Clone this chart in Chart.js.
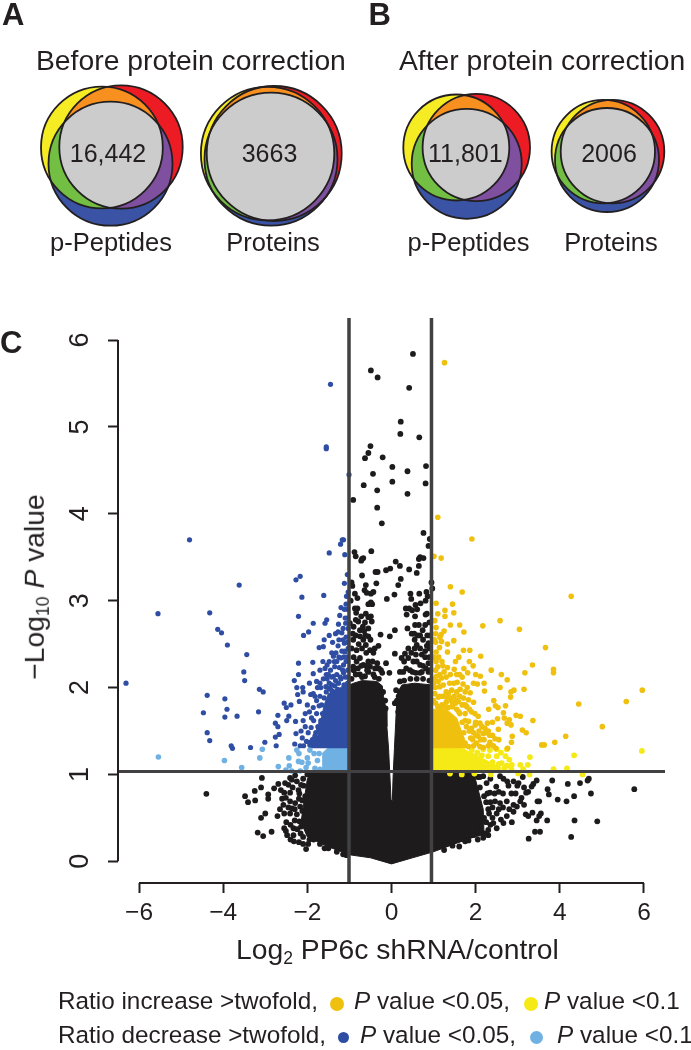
<!DOCTYPE html>
<html><head><meta charset="utf-8">
<script src="https://cdn.jsdelivr.net/npm/chart.js@4"></script>
<style>
html,body{margin:0;padding:0;background:#fff}
body{position:relative;width:691px;height:1050px;overflow:hidden;font-family:"Liberation Sans",Arial,sans-serif;color:#231f20}
canvas{position:absolute;left:0}
.t{position:absolute;white-space:nowrap;line-height:1;font-size:25.5px}
.c{transform:translateX(-50%)}
.p{font-weight:bold;font-size:31px}
.h{font-size:28.3px}
.n{font-size:25px}
.l{font-size:24.3px}
.d{position:absolute;border-radius:50%}
sub{font-size:62%;line-height:0;vertical-align:-0.28em}
</style></head><body>
<canvas id="venn" style="top:0" width="691" height="280"></canvas>
<canvas id="volcano" style="top:280px" width="691" height="770"></canvas>
<div class="t p" style="left:2px;top:-1px">A</div>
<div class="t p" style="left:368.5px;top:-1px">B</div>
<div class="t p" style="left:0;top:327px">C</div>
<div class="t h" style="left:36px;top:46px">Before protein correction</div>
<div class="t h" style="left:399px;top:46px">After protein correction</div>
<div class="t c" style="left:111px;top:230.4px">p-Peptides</div>
<div class="t c" style="left:273px;top:230.4px">Proteins</div>
<div class="t c" style="left:468.5px;top:230.4px">p-Peptides</div>
<div class="t c" style="left:611px;top:230.4px">Proteins</div>
<div class="t c n" style="left:108px;top:140.5px">16,442</div>
<div class="t c n" style="left:269.5px;top:140.5px">3663</div>
<div class="t c n" style="left:465.3px;top:140.5px">11,801</div>
<div class="t c n" style="left:609px;top:140.5px">2006</div>
<div class="t h" id="ytitle" style="left:34px;top:586.5px;transform:translate(-50%,-50%) rotate(-90deg)">−Log<sub>10</sub> <i>P</i> value</div>
<div class="t h" style="left:236px;top:935px">Log<sub>2</sub> PP6c shRNA/control</div>
<div class="t l" style="left:58px;top:989.4px">Ratio increase &gt;twofold,</div>
<div class="d" style="left:330px;top:997px;width:14px;height:14px;background:#efc10e"></div>
<div class="t l" style="left:354px;top:989.4px"><i>P</i> value &lt;0.05,</div>
<div class="d" style="left:524px;top:997px;width:14px;height:14px;background:#f5e916"></div>
<div class="t l" style="left:544px;top:989.4px"><i>P</i> value &lt;0.1</div>
<div class="t l" style="left:58px;top:1023.4px">Ratio decrease &gt;twofold,</div>
<div class="d" style="left:338px;top:1032px;width:11px;height:11px;background:#2f4ea3"></div>
<div class="d" style="left:530px;top:1031px;width:13px;height:13px;background:#6fb1e3"></div>
<div class="t l" style="left:360px;top:1023.4px"><i>P</i> value &lt;0.05,</div>
<div class="t l" style="left:557px;top:1023.4px"><i>P</i> value &lt;0.1</div>
<script>
const xTicks=[-6,-4,-2,0,2,4,6];
const yTicks=[0,1,2,3,4,5,6];
const foldCutLow=-1.01, foldCutHigh=0.95, pCut=1.033;

// Venn circles: yellow, red, blue for each of the four diagrams
const vennX=[101.9,121,110.5, 267.6,274.2,271, 456.3,476.3,466.7, 603.3,612.5,607];
const vennY=[147.5,147,163.7, 153.6,153.5,159.2, 147.5,147.5,163.8, 151.6,151.6,160];
const vennR=[60.9,61.7,62, 66.7,67.5,66.5, 53,53.7,55, 51.7,51.8,52];

// Dense cloud outlines read column by column: [x, y]
const blackTop=[[-2.15,.45],[-2.0,.95],[-1.9,1.03],[-1.02,1.03],[-1.0,2.03],[-.9,2.05],[-.7,2.08],[-.35,2.07],[-.22,2.02],[-.19,1.9],[-.13,1.75],[-.11,1.55],[-.07,1.3],[-.04,1.0],[-.01,.7],[.02,.7],[.04,1.0],[.07,1.3],[.1,1.6],[.12,1.8],[.15,1.95],[.25,2.03],[.55,2.05],[.95,2.03],[.97,1.03],[1.94,1.03],[2.02,.9],[2.18,.6],[2.2,.3]];
const blackBottom=[[-2.15,.45],[-2.0,.28],[-1.5,.167],[-1,.075],[-.5,.04],[0,-.03],[.5,.04],[1,.11],[1.5,.2],[2,.285],[2.2,.3]];
const darkBlueBand=[[-1.95,1.33],[-1.75,1.45],[-1.6,1.8],[-1.5,1.93],[-1.2,2.0],[-1.0,2.1]];
const lightBlueBand=[[-1.65,1.24],[-1.5,1.31],[-.99,1.31]];
const goldBand=[[.97,1.75],[1.3,1.75],[1.55,1.65],[1.72,1.42],[1.8,1.3]];
const yellowBand=[[.97,1.31],[1.6,1.31],[1.9,1.25],[2.3,1.15],[2.6,1.08]];

const darkBluePoints=[[-1.45,5.49],[-1.55,4.77],[-1.55,4.75],[-1.01,4.45],[-4.8,3.7],[-1.14,3.7],[-1.21,3.65],[-1.17,3.7],[-1.48,3.55],[-1.11,3.53],
[-3.62,3.18],[-2.17,3.28],[-2.27,3.24],[-1.61,3.06],[-2.13,3.04],[-1.08,2.96],[-5.55,2.85],[-4.32,2.86],[-2.21,2.82],[-1.23,2.83],[-1.1,2.8],[-1.54,2.78],[-1.58,2.74],[-1.86,2.74],[-1.26,2.73],[-1.09,2.74],[-4.13,2.67],[-4.04,2.63],[-1.97,2.64],[-2.09,2.6],[-1.27,2.64],[-1.18,2.63],[-3.9,2.49],[-1.72,2.46],[-1.62,2.47],[-1.27,2.48],[-1.12,2.51],[-3.44,2.38],[-1.11,2.41],[-1.38,2.36],[-1.21,2.34],[-2.21,2.28],[-1.87,2.29],[-1.63,2.3],[-1.53,2.26],[-1.36,2.3],[-1.14,2.26],[-1.24,2.23],[-3.51,2.18],[-2.21,2.15],[-1.86,2.16],[-3.49,2.08],[-2.31,2.08],[-1.78,2.07],[-1.62,2.1],[-1.53,2.1],[-1.38,2.13],[-1.14,2.17],[-6.31,2.05],[-3.14,1.98],[-3.05,1.95],[-2.25,2],[-2.11,2],[-1.76,2],[-1.56,2.01],[-1.42,2.03],[-1.26,2.05],[-1.13,2.03],[-4.38,1.91],[-2.23,1.92],[-2.1,1.95],[-1.92,1.92],[-1.86,1.93],[-3.96,1.87],[-2.19,1.84],[-2.55,1.82],[-2.5,1.77],[-2.39,1.8],[-1.72,1.79],[-1.86,1.77],[-3.91,1.75],[-4.47,1.71],[-3.16,1.72],[-2.7,1.68],[-3.67,1.67],[-3.96,1.66],[-2.44,1.67],[-2.49,1.62],[-2.28,1.61],[-2.76,1.59],[-2.7,1.55],[-1.68,1.59],[-1.91,1.54],[-4.38,1.48],[-2.15,1.5],[-2.27,1.47],[-2.67,1.46],[-2.76,1.43],[-1.73,1.52],[-4.32,1.39],[-3.01,1.37],[-2.74,1.33],[-3.81,1.33],[-3.78,1.3],[-3.35,1.31],[-2.17,1.33],[-2.09,1.33],[-1.94,1.34],[-1.82,1.36],[-1.82,1.44],[-1.7,1.42],[-1.35,2.24],[-1.3,2.15],[-1.2,2.1],[-1.45,1.98],[-1.08,2.3],[-1.05,2.12],[-1.18,2.42],
[-1.95,1.37],[-1.88,1.4],[-1.8,1.48],[-1.75,1.55],[-1.68,1.62],[-1.64,1.7],[-1.66,1.8],[-1.6,1.88],[-1.55,1.95],[-1.48,1.99],[-1.4,1.96],[-1.33,2.08],[-1.28,1.98],[-1.22,2.12],[-1.16,2.2],[-1.1,2.12],[-1.04,2.2],[-1.06,2.35],[-1.14,2.35],[-1.03,2.45],[-1.08,2.58],[-1.03,2.68],[-1.15,2.55],[-1.32,2.4],[-1.45,2.2],[-1.5,2.15],[-1.7,2.2],[-1.42,2.12],[-1.95,2.05],[-2,1.8],[-1.9,1.65],[-2.05,1.55],[-2.12,1.42],[-2.02,1.38],[-1.78,1.7],[-1.7,1.9],[-1.03,3.1],[-1.05,3.3],[-1.12,2.9],[-1.05,2.9],
[-1.7,2.05],[-1.68,2],[-1.55,2.15],[-1.48,2.05],[-1.48,2.3],[-1.42,2.4],[-1.3,2.3],[-1.25,2.35],[-1.12,2.42],[-1.05,2.52],[-1.04,2.05],[-1.35,2.02],[-1.82,1.9],[-1.78,1.85],[-1.85,1.62],[-1.95,1.72],[-2.05,1.7],[-1.98,1.48],[-2.1,1.62],[-2.3,1.35],[-1.58,2.22],[-1.25,2.55],[-1.33,2.62],[-1.15,2.68],[-1.05,2.8],[-1.2,2.92],[-1.07,3.05],[-1.4,2.52],[-1.48,2.6],[-1.12,3.2],[-1.6,2.55]];

const lightBluePoints=[[-5.54,1.2],[-3.97,1.16],[-3.56,1.08],[-3.13,1.19],[-3.07,1.29],[-2.69,1.09],[-2.44,1.19],[-2.43,1.1],[-2.51,1.05],[-2.25,1.28],[-2.2,1.24],[-1.94,1.28],[-1.84,1.24],[-2,1.19],[-2.13,1.14],[-2.21,1.15],[-1.76,1.16],[-1.98,1.13],[-1.82,1.07],[-2.03,1.08],[-2.37,1.04],[-2.17,1.04],[-1.7,1.06],[-1.72,1.24]];

const goldPoints=[[1.26,5.74],[1.1,3.96],[1.91,3.71],[1.01,3.51],[1.18,3.49],[1.4,3.16],[1.68,3.1],[4.27,3.05],[1.06,2.97],[1.45,2.96],[1.27,2.89],[1.48,2.86],[1.1,2.85],[1.27,2.82],[2.58,2.77],[2.17,2.71],[1.4,2.72],[1.62,2.72],[1.06,2.69],[1.72,2.64],[3.04,2.67],[1.18,2.61],[1.15,2.58],[1.19,2.53],[1.48,2.54],[1.33,2.5],[1.14,2.46],[1.06,2.41],[1.33,2.41],[1.71,2.43],[1.86,2.43],[3.66,2.46],[2.12,2.36],[1.85,2.3],[1.06,2.3],[1.94,2.25],[1.1,2.24],[1.33,2.23],[1.49,2.21],[1.72,2.22],[1.81,2.17],[1.25,2.18],[3.35,2.26],[2.37,2.2],[2.61,2.15],[3.17,2.17],[3.85,2.21],[3.85,2.17],[2.11,2.13],[1.68,2.12],[1.07,2.13],[1.19,2.11],[1.3,2.12],[2.75,2.09],[2.04,2.04],[1.56,2.06],[1.11,2.07],[1.23,2.03],[1.15,2.01],[2.91,1.97],[2.84,1.95],[3.15,1.98],[2.58,2],[2.21,1.96],[1.8,2],[1.87,1.94],[1.63,1.98],[1.43,1.97],[1.35,1.93],[1.03,1.93],[1.23,1.9],[1.11,1.89],[1.49,1.9],[2.83,1.89],[2.43,1.85],[1.71,1.88],[1.59,1.84],[1.83,1.86],[1.95,1.83],[1.79,1.78],[1.9,1.72],[2.71,1.79],[2.47,1.79],[2.53,1.77],[2.31,1.75],[2.66,1.71],[2.06,1.67],[2.96,1.68],[3.06,1.67],[3.36,1.62],[2.52,1.64],[2.4,1.6],[2.28,1.59],[2.68,1.65],[2.8,1.63],[2.75,1.59],[2.84,1.57],[2.1,1.59],[1.99,1.57],[1.83,1.61],[1.9,1.53],[2.54,1.52],[2.22,1.53],[2.08,1.5],[3.11,1.51],[3.2,1.48],[2.33,1.45],[2.18,1.47],[2.06,1.44],[2.87,1.44],[1.93,1.4],[2.02,1.36],[2.34,1.37],[2.46,1.41],[2.55,1.4],[2.85,1.37],[3.57,1.34],[3.63,1.34],[3.88,1.37],[2.48,1.3],[2.76,1.3],[1.75,1.36],[1.63,1.34],[1.83,1.32],[1.51,1.44],[1.59,1.38],[1.67,1.41],[2.18,1.31],[5.96,1.97],[5.58,1.84],[4.45,1.81],[5.01,1.55],[4.14,1.44],[1.3,1.83],[1.45,1.8],[1.2,1.8],[1.05,1.82],[1.6,1.72],
[1.72,1.48],[1.78,1.55],[1.68,1.6],[1.62,1.7],[1.55,1.75],[1.45,1.78],[1.35,1.77],[1.15,1.77],[1,1.85],[1.04,2],[1.15,1.9],[1.3,1.95],[1.4,1.88],[1.52,1.82],[1.68,1.8],[1.75,1.7],[1.85,1.5],[1.88,1.42],[1.95,1.33],[2.1,1.32],[2,1.45],[2.2,1.4],[2.3,1.5],[2.42,1.33],[1.05,2.2],[1,2.35],[1.02,2.55],[1.03,2.77],[1.55,1.95],[1.7,2.04],[1,2.05],
[1.05,2.52],[1.12,2.35],[1.2,2.3],[1.02,2.1],[1.15,2.15],[1.22,2.25],[1.4,2.15],[1.38,2.05],[1.55,2.15],[1.48,2.05],[1.62,2.15],[1.75,1.95],[1.55,1.85],[1.62,1.9],[1.1,1.78],[1.25,1.78],[1.32,1.88],[1.42,1.85],[1.75,1.8],[1.85,1.75],[1.98,1.7],[2,1.6],[1.75,1.62],[1.95,1.48],[2.12,1.4],[2.25,1.48],[2.4,1.45],[2.15,1.55],[2.3,1.33],[1.05,2.62],[1.25,2.65],[1.52,2.3],[1.6,2.35],[1.95,2.05],[2.2,2.05],[2,2.15]];

const yellowPoints=[[5.95,1.27],[4.34,1.22],[3.29,1.2],[3.06,1.11],[3.24,1.11],[3.85,1.06],[4.17,1.07],[2.86,1.11],[3.13,1.06],[4.54,1.0],[3.28,1.0],[3.01,1.01],[2.36,1.0],[1.97,1.01],[1.67,1.0],[1.39,1.01],[2.74,1.29],[2.71,1.21],[2.5,1.29],[2.34,1.28],[2.18,1.29],[2.04,1.25],[1.91,1.28],[2.74,1.1],[2.62,1.13],[2.5,1.21],[2.3,1.21],[2.15,1.22],[2.85,1.06],[2.68,1.07],[1.7,1.27],[1.85,1.22],[2,1.15],[2.1,1.18],[2.25,1.12],[2.4,1.14],[2.55,1.12],[2.45,1.07],[2.8,1.17],[2.6,1.25]];

const blackPoints=[[.51,5.84],[-.49,5.65],[-.33,5.57],[.42,5.45],[.22,5.06],[.21,4.92],[.66,4.88],[-.5,4.78],[-.55,4.7],[-.63,4.64],[-.21,4.65],[.02,4.54],[.82,4.55],[.38,4.49],[-.44,4.46],[.02,4.37],[-.66,4.33],[.81,4.35],[-.34,4.27],[.38,4.23],[-.91,4.16],[-.34,4.07],[-.23,3.89],[.76,3.78],[.91,3.71],[.88,3.63],[-.48,3.57],[-.88,3.56],[-.85,3.51],[-.67,3.49],[-.72,3.46],[-.7,3.48],[.68,3.5],[.76,3.49],[.65,3.48],[.1,3.45],[.2,3.4],[.65,3.4],[-.03,3.37],[-.13,3.35],[.42,3.36],[.6,3.32],[-.38,3.33],[-.33,3.33],[-.7,3.29],[.22,3.25],[.95,3.21],[-.36,3.2],[.16,3.18],[-.61,3.18],[-.95,3.21],[-.93,3.17],[.97,3.14],[-.64,3.12],[-.59,3.09],[-.43,3.1],[-.49,3.08],[.83,3.1],[.66,3.08],[.45,3.08],[.07,3.07],[-.87,3.08],[-.81,3.03],[-.11,3.02],[.47,3.02],[.86,3.05],[.81,3],[.69,2.97],[-.97,3],[-.55,2.96],[-.46,2.96],[-.49,2.98],[.57,2.95],[.34,2.91],[.42,2.91],[.49,2.89],[.61,2.9],[-.87,2.91],[-.81,2.91],[-.84,2.86],[.81,2.84],[.84,2.85],[-.61,2.85],[-.49,2.82],[-.55,2.81],[.36,2.84],[.56,2.82],
[-.99,2.74],[-.79,2.76],[-.63,2.75],[-.47,2.76],[-.75,2.66],[-.55,2.68],[-.26,2.61],[-.04,2.59],[.08,2.66],[.38,2.68],[.56,2.72],[.74,2.66],[.54,2.62],[.68,2.6],[-.75,2.59],[-.55,2.59],[-.67,2.55],[-.91,2.55],[-.31,2.48],[-.61,2.49],[-.83,2.43],[-.51,2.43],[-.43,2.4],[.6,2.49],[.68,2.45],[.88,2.51],[.91,2.45],[.84,2.48],[.08,2.39],[.32,2.39],[.24,2.34],[.4,2.34],[.72,2.38],[.52,2.3],[.68,2.26],[.88,2.28],[-.75,2.34],[-.83,2.3],[-.67,2.26],[-.91,2.24],[-.51,2.24],[-.39,2.22],[-.34,2.28],[-.13,2.28],[-.22,2.17],[-.05,2.17],[.2,2.18],[.44,2.2],[.2,2.07],[.68,2.17],[.88,2.18],[.58,2.17],[-.75,2.15],[-.43,2.15],[-.63,2.13],[.11,1.97],[.08,1.82],[.16,1.72],[-.14,1.76],
[-.95,2.1],[-.85,2.15],[-.7,2.12],[-.55,2.18],[-.4,2.12],[-.3,2.1],[.3,2.08],[.45,2.1],[.6,2.1],[.75,2.1],[.9,2.08],[-.9,2.35],[-.6,2.4],[-.72,2.25],[-.55,2.3],[.8,2.35],[.75,2.25],[.6,2.3],[.9,2.35],[.55,2.45],[-.95,2.45],[-.85,2.6],[-.9,2.7],[-.65,2.65],[-.5,2.55],[.55,2.55],[.75,2.55],[.85,2.6],[-.68,2.7],[.3,2.3],[.47,2.4],[-.25,2.2],[-.2,1.95],[-.15,1.85],[.13,1.85],[.17,1.9],
[-.9,2.2],[-.8,2.22],[-.6,2.25],[-.45,2.3],[-.4,2.45],[-.7,2.45],[-.78,2.5],[-.62,2.6],[-.85,2.78],[-.72,2.82],[-.92,2.62],[-.58,2.2],[-.3,2.22],[.35,2.22],[.5,2.18],[.72,2.18],[.82,2.22],[.92,2.2],[.4,2.45],[.62,2.6],[.8,2.42],[.92,2.6],[.48,2.62],[.65,2.72],[.8,2.72],[.9,2.75],[.28,2.18],[.58,2.38],
[-4.4,.777],[-3.08,.96],[-3.48,.75],[-3.41,.68],[-3.24,.7],[-3.25,.81],[-3.1,.85],[-2.93,.77],[-2.93,.72],[-2.79,.84],[-2.69,.89],[-2.53,.9],[-2.63,.82],[-2.55,.79],[-2.41,.79],[-2.21,.82],[-2.19,.78],[-2.09,.87],[-2.41,.96],[-2.29,.99],[-2.37,.94],[-2.51,.73],[-2.57,.65],[-2.41,.69],[-2.29,.67],[-2.17,.63],[-2.37,.61],[-3,.55],[-3.1,.5],[-2.71,.52],[-2.55,.55],[-2.41,.55],[-2.25,.54],[-2.19,.46],[-3.18,.33],[-3.05,.29],[-2.85,.34],[-2.51,.35],[-2.48,.3],[-2.33,.3],[-2.33,.38],[-2.24,.37],[-2.16,.32],[-2.32,.23],[-1.95,.25],[-1.98,.2],[-2.03,.14],[-1.59,.15],[-1.07,.07],
[-2.1,.95],[-2,1],[-2.05,.75],[-2.12,.7],[-2.05,.55],[-2.1,.45],[-2,.38],[-1.9,.28],[-1.85,.25],[-1.7,.2],[-1.5,.15],[-1.3,.11],[-1.15,.08],[2.05,.97],[2.1,.85],[2.2,.75],[2.25,.68],[2.3,.6],[2.25,.45],[2.1,.35],[1.95,.3],[1.75,.23],[1.45,.18],[1.25,.13],
[-2.45,.88],[-2.35,.85],[-2.25,.92],[-2.15,.88],[-2.6,.72],[-2.45,.62],[-2.3,.6],[-2.2,.72],[-2.12,.58],[-2.65,.6],[-2.5,.45],[-2.4,.42],[-2.3,.47],[-2.55,.38],[-2.15,.4],[-2.4,.25],[-2.2,.22],[-2.1,.2],[-2.1,.28],
[2.35,.95],[2.45,.78],[2.55,.8],[2.65,.78],[2.35,.68],[2.55,.6],[2.65,.62],[2.35,.42],[2.5,.38],[2.6,.48],[2.8,.6],[2.85,.78],[2.95,.78],[2.75,.92],[2.9,.92],[3.02,.9],[3.15,.85],[3.15,.65],[2.4,.5],[2.28,.78],[2.3,.3],
[5.77,.83],[4.89,.46],[4.35,.47],[4.27,.28],[4.74,.78],[4.69,.95],[4.66,.93],[4.48,.9],[4.34,.75],[4.16,.69],[3.95,.71],[4.19,.89],[3.82,.93],[3.71,.83],[3.74,.77],[3.7,.47],[3.53,.34],[3.41,.34],[3.26,.26],[3.55,.55],[3.51,.52],[3.45,.47],[3.35,.56],[3.25,.52],[3.19,.54],[3.45,.93],[3.37,.89],[3.33,.86],[3.25,.8],[3.2,.79],[3.09,.73],[3.47,.69],[3.51,.69],[3.12,.97],[2.99,.87],[2.78,.87],[2.66,.95],[2.58,.98],[2.49,.86],[3.06,.69],[2.98,.63],[2.9,.57],[2.86,.45],[2.74,.52],[2.66,.44],[2.5,.55],[2.42,.44],[2.22,.32],[2.3,.36],[2.18,.27],[2.05,.25],[1.83,.24],[1.61,.17],[2.74,.69],[2.58,.67],[2.9,.65],[2.46,.69],[2.34,.79],[2.26,.9],[2.18,.98],[2.1,.97],[2.32,.55],[2.2,.5],[2.1,.42],[2.4,.62]];

const black='#1e1b1c', guide='#414042', ink='#231f20';
const pts=a=>a.map(([x,y])=>({x,y}));
const dots=(data,color,r,order)=>({type:'scatter',data:pts(data),backgroundColor:color,borderWidth:0,pointRadius:r,pointHoverRadius:r,order});
const band=(data,color,fill,order)=>({type:'scatter',data:pts(data),showLine:true,tension:0,pointRadius:0,borderColor:color,borderWidth:1,backgroundColor:color,fill,order});
const rule=(data,color,w,order)=>({type:'scatter',data:pts(data),showLine:true,pointRadius:0,borderColor:color,borderWidth:w,clip:false,order});

const xMin=-6.5,xMax=6.5,yMin=-.25,yMax=6.254;

new Chart(document.getElementById('volcano'),{
 data:{datasets:[
  band(blackTop,black,'+1',20),
  band(blackBottom,black,false,21),
  dots(blackPoints,black,2.9,19),
  band(darkBlueBand,'#2f4ea3',{target:{value:1.3}},12),
  band(lightBlueBand,'#6fb1e3',{target:{value:1.05}},13),
  band(goldBand,'#efc10e',{target:{value:1.3}},12),
  band(yellowBand,'#f5e916',{target:{value:1.05}},13),
  dots(darkBluePoints,'#2f4ea3',2.6,10),
  dots(lightBluePoints,'#6fb1e3',2.8,11),
  dots(goldPoints,'#efc10e',2.8,10),
  dots(yellowPoints,'#f5e916',2.9,11),
  rule([[foldCutLow,yMin],[foldCutLow,yMax]],guide,3.5,1),
  rule([[foldCutHigh,yMin],[foldCutHigh,yMax]],guide,3.5,1),
  rule([[xMin,pCut],[xMax,pCut]],guide,3,1),
  rule([[xTicks[0],yMin],[xTicks[6],yMin]],ink,2,0),
  rule([[xMin,yTicks[0]],[xMin,yTicks[6]]],ink,2,0)
 ]},
 options:{
  responsive:false,animation:false,
  layout:{autoPadding:false,padding:{left:0,top:38,right:26,bottom:117}},
  plugins:{legend:{display:false},tooltip:{enabled:false}},
  events:[],
  scales:{
   x:{type:'linear',min:xMin,max:xMax,
    afterBuildTicks:a=>{a.ticks=xTicks.map(value=>({value}))},
    afterFit:s=>{s.height=50},
    border:{display:false},
    grid:{drawOnChartArea:false,drawTicks:true,tickLength:10,tickWidth:2,tickColor:ink},
    ticks:{padding:6,color:ink,maxRotation:0,autoSkip:false,font:{family:'Liberation Sans',size:24.5},callback:v=>v<0?'−'+Math.abs(v):String(v)}},
   y:{type:'linear',min:yMin,max:yMax,
    afterBuildTicks:a=>{a.ticks=yTicks.map(value=>({value}))},
    afterFit:s=>{s.width=118},
    border:{display:false},
    grid:{drawOnChartArea:false,drawTicks:true,tickLength:10,tickWidth:2,tickColor:ink},
    ticks:{padding:20,color:ink,minRotation:90,maxRotation:90,crossAlign:'center',autoSkip:false,font:{family:'Liberation Sans',size:27}}}
  }
 }
});

const vennColors=['#f6ec23','#ed1c24','#3a53a4'];
const vennOverlap={orange:'#f7901e',green:'#72bf44',purple:'#7f50a0',grey:'#cccccc'};
const vennPlugin={id:'vennRegions',afterDatasetsDraw(chart){
 const c=chart.ctx, el=chart.getDatasetMeta(0).data;
 const path=p=>{c.beginPath();c.arc(p.x,p.y,p.options.radius,0,Math.PI*2)};
 const region=(list,color)=>{c.save();list.forEach(p=>{path(p);c.clip()});c.fillStyle=color;c.fillRect(0,0,chart.width,chart.height);c.restore()};
 for(let i=0;i<el.length;i+=3){
  const [y,r,b]=[el[i],el[i+1],el[i+2]];
  region([y,r],vennOverlap.orange);
  region([y,b],vennOverlap.green);
  region([r,b],vennOverlap.purple);
  region([y,r,b],vennOverlap.grey);
  c.save();c.strokeStyle='#231f20';c.lineWidth=1.8;
  [y,r,b].forEach(p=>{path(p);c.stroke()});
  c.restore();
 }
}};
new Chart(document.getElementById('venn'),{
 type:'bubble',
 data:{datasets:[{
  data:vennX.map((x,i)=>({x,y:vennY[i],r:vennR[i]})),
  backgroundColor:vennX.map((_,i)=>vennColors[i%3]),
  borderWidth:0,clip:false
 }]},
 options:{responsive:false,animation:false,events:[],
  layout:{autoPadding:false,padding:0},
  plugins:{legend:{display:false},tooltip:{enabled:false}},
  scales:{x:{display:false,type:'linear',min:0,max:691},y:{display:false,type:'linear',min:0,max:280,reverse:true}}},
 plugins:[vennPlugin]
});
</script>
</body></html>
